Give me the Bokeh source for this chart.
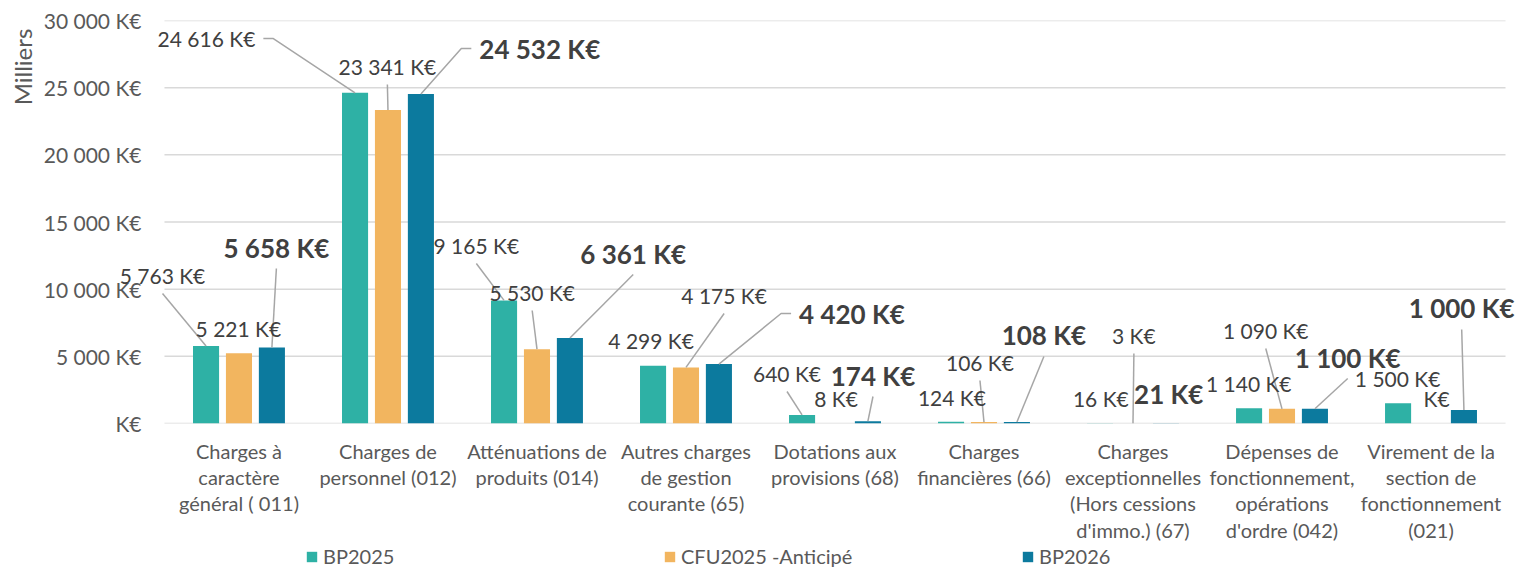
import math
from bokeh.plotting import figure
from bokeh.layouts import column, row
from bokeh.models import (ColumnDataSource, Range1d, FixedTicker, LabelSet,
                          Legend, LegendItem)
from bokeh.core.properties import value
from bokeh.embed import file_html
from bokeh.resources import INLINE

# ---------------- data ----------------
categories = [
    "Charges à\ncaractère\ngénéral ( 011)",
    "Charges de\npersonnel (012)",
    "Atténuations de\nproduits (014)",
    "Autres charges\nde gestion\ncourante (65)",
    "Dotations aux\nprovisions (68)",
    "Charges\nfinancières (66)",
    "Charges\nexceptionnelles\n(Hors cessions\nd'immo.) (67)",
    "Dépenses de\nfonctionnement,\nopérations\nd'ordre (042)",
    "Virement de la\nsection de\nfonctionnement\n(021)",
]
series_names = ["BP2025", "CFU2025 -Anticipé", "BP2026"]
bp2025 = [5763, 24616, 9165, 4299, 640, 124, 16, 1140, 1500]
cfu2025 = [5221, 23341, 5530, 4175, 8, 106, 3, 1090, 0]
bp2026 = [5658, 24532, 6361, 4420, 174, 108, 21, 1100, 1000]
y_ticks = [0, 5000, 10000, 15000, 20000, 25000, 30000]
y_tick_labels = ["K€", "5 000 K€", "10 000 K€", "15 000 K€", "20 000 K€", "25 000 K€", "30 000 K€"]
y_axis_title = "Milliers"

# ---------------- layout / style ----------------
colors = ["#2EB1A5", "#F2B55F", "#0C7A9E"]
bar_offsets = [-0.221, 0.0, 0.221]
bar_width = 0.175
bold_series = [False, False, True]

# label anchor positions (layout only), per series, in data units
lbl_x = [
    [-0.013, 0.610, 2.093, 3.266, 4.178, 5.285, 6.284, 7.277, 8.276],
    [0.496, 1.496, 2.468, 3.756, 4.507, 5.473, 6.506, 7.391, 8.538],
    [0.751, 2.113, 3.146, 4.259, 4.755, 5.902, 6.740, 7.941, 8.706],
]
lbl_y = [
    [11017, 28659, 13250, 6179, 3722, 1935, 1861, 2978, 3350],
    [7072, 26575, 9752, 9528, 1861, 4541, 6551, 6923, 1861],
    [13101, 27915, 12655, 8188, 3573, 6551, 2233, 4913, 8561],
]
lbl_align = [
    ["center", "right", "center", "center", "center", "center", "center", "center", "center"],
    ["center"] * 9,
    ["center", "left", "center", "left", "center", "center", "center", "center", "center"],
]
lbl_leader = [
    ["bottom", "right", "bottom", None, "bottom", None, None, None, None],
    [None, "bottom", "bottom", "bottom", None, "bottom", "bottom", "bottom", None],
    ["bottom", "left", "bottom", "left", "bottom", "bottom", None, "bottom", "bottom"],
]

TOTAL_W = 1517
LEFT_W = 40            # strip holding the rotated "Milliers"
MAIN_W = TOTAL_W - LEFT_W
MAIN_H, LEG_H = 545, 23
CAT_LEFT, CAT_RIGHT = 163, 1505      # category band (page px)
FRAME_LEFT, FRAME_RIGHT = 116, 1517  # main drawing frame (page px)
FRAME_TOP, FRAME_BOTTOM = 20, 423
TICK_LABEL_RIGHT = 140
Y_MAX = 30000
N = len(categories)
XPX = (CAT_RIGHT - CAT_LEFT) / N
YPX = (FRAME_BOTTOM - FRAME_TOP) / Y_MAX
x_start = -(CAT_LEFT - FRAME_LEFT) / XPX
x_end = N + (FRAME_RIGHT - CAT_RIGHT) / XPX

FONT = "Lato"
TEXT_COL = "#404040"
AXIS_COL = "#595959"
GRID_COL = "#D9D9D9"


def fmt(v):
    if v == 0:
        return "K€"
    return f"{v:,}".replace(",", " ") + " K€"


y_range = Range1d(0, Y_MAX)

p = figure(width=MAIN_W, height=MAIN_H, output_backend="svg", toolbar_location=None,
           x_range=Range1d(x_start, x_end), y_range=y_range,
           min_border_left=FRAME_LEFT - LEFT_W, min_border_right=TOTAL_W - FRAME_RIGHT,
           min_border_top=FRAME_TOP, min_border_bottom=MAIN_H - FRAME_BOTTOM)
p.outline_line_color = None
p.background_fill_color = "white"
p.xgrid.visible = False
p.ygrid.visible = False

# gridlines limited to the category band
p.segment(x0=[0] * len(y_ticks), x1=[N] * len(y_ticks), y0=y_ticks, y1=y_ticks,
          line_color=GRID_COL, line_width=1.5)

# y axis (tick labels right-aligned at ~140px, slightly inside the wide frame)
p.yaxis.ticker = FixedTicker(ticks=y_ticks)
p.yaxis.major_label_overrides = {t: l for t, l in zip(y_ticks, y_tick_labels)}
p.yaxis.axis_line_color = None
p.yaxis.major_tick_line_color = None
p.yaxis.minor_tick_line_color = None
p.yaxis.major_tick_out = 0
p.yaxis.major_tick_in = 0
p.yaxis.major_label_standoff = -(TICK_LABEL_RIGHT - FRAME_LEFT)
p.yaxis.major_label_text_font = FONT
p.yaxis.major_label_text_font_size = "21px"
p.yaxis.major_label_text_color = AXIS_COL

# x axis
x_ticks = [i + 0.5 for i in range(N)]
p.xaxis.ticker = FixedTicker(ticks=x_ticks)
p.xaxis.major_label_overrides = {t: c for t, c in zip(x_ticks, categories)}
p.xaxis.axis_line_color = None
p.xaxis.major_tick_line_color = None
p.xaxis.minor_tick_line_color = None
p.xaxis.major_tick_out = 0
p.xaxis.major_tick_in = 0
p.xaxis.major_label_standoff = 15
p.xaxis.major_label_text_font = FONT
p.xaxis.major_label_text_font_size = "20px"
p.xaxis.major_label_text_color = AXIS_COL
p.xaxis.major_label_text_line_height = 1.1

all_series = [bp2025, cfu2025, bp2026]
series_x = []
lx_all, ly_all = [], []
for s, vals in enumerate(all_series):
    xs = [i + 0.5 + bar_offsets[s] for i in range(len(vals))]
    series_x.append(xs)
    src = ColumnDataSource(dict(x=xs, top=vals))
    p.vbar(x="x", top="top", width=bar_width, source=src,
           fill_color=colors[s], line_color=None)

    for i, v in enumerate(vals):
        kind = lbl_leader[s][i]
        if kind is None:
            continue
        lx, ly = lbl_x[s][i], lbl_y[s][i]
        bx, by = xs[i], v
        if kind == "bottom":
            gap = 21 if bold_series[s] else 18
            lx_all.append([lx, bx])
            ly_all.append([ly - gap / YPX, by])
        elif kind == "left":
            lx_all.append([lx - 8 / XPX, lx - 18 / XPX, bx])
            ly_all.append([ly, ly, by])
        elif kind == "right":
            lx_all.append([lx + 8 / XPX, lx + 18 / XPX, bx])
            ly_all.append([ly, ly, by])

p.multi_line(xs=lx_all, ys=ly_all, line_color="#A6A6A6", line_width=1.5)

for s, vals in enumerate(all_series):
    for align in ("center", "left", "right"):
        idx = [i for i in range(len(vals)) if lbl_align[s][i] == align]
        if not idx:
            continue
        lsrc = ColumnDataSource(dict(
            x=[lbl_x[s][i] for i in idx],
            y=[lbl_y[s][i] for i in idx],
            text=[fmt(vals[i]) for i in idx],
        ))
        ls = LabelSet(x="x", y="y", text="text", source=lsrc,
                      text_align=value(align), text_baseline=value("middle"),
                      text_font=value(FONT),
                      text_font_size=value("26px" if bold_series[s] else "21px"),
                      text_font_style=value("bold" if bold_series[s] else "normal"),
                      text_color=value(TEXT_COL))
        p.add_layout(ls)

# ---- left strip: rotated axis title "Milliers" at the top-left ----
pl = figure(width=LEFT_W, height=MAIN_H, output_backend="svg", toolbar_location=None,
            x_range=Range1d(0, LEFT_W), y_range=y_range,
            x_axis_location=None, y_axis_location=None,
            min_border_left=0, min_border_right=0,
            min_border_top=FRAME_TOP, min_border_bottom=MAIN_H - FRAME_BOTTOM)
pl.outline_line_color = None
pl.grid.visible = False
pl.text(x=[22], y=[Y_MAX - 46.5 / YPX], text=[y_axis_title], angle=math.pi / 2,
        text_align="center", text_baseline="middle", text_font=value(FONT),
        text_font_size="24px", text_color=AXIS_COL)

# ---- bottom strip: legend (its bar renderers are hidden, only the legend shows) ----
pg = figure(width=TOTAL_W, height=LEG_H, output_backend="svg", toolbar_location=None,
            x_range=Range1d(0, N), y_range=Range1d(0, Y_MAX),
            x_axis_location=None, y_axis_location=None,
            min_border_left=0, min_border_right=0, min_border_top=0, min_border_bottom=0)
pg.outline_line_color = None
pg.grid.visible = False
leg_renderers = []
for s in range(len(all_series)):
    r = pg.vbar(x=series_x[s], top=all_series[s], width=bar_width,
                fill_color=colors[s], line_color=None)
    r.visible = False
    leg_renderers.append(r)
legend = Legend(items=[LegendItem(label=n, renderers=[r]) for n, r in zip(series_names, leg_renderers)],
                orientation="horizontal", location=(305, 0),
                glyph_width=13, glyph_height=13, label_standoff=5, label_width=338,
                spacing=2, padding=0, margin=0, border_line_color=None,
                background_fill_alpha=0, label_text_font=FONT,
                label_text_font_size="20px", label_text_color=AXIS_COL)
pg.add_layout(legend)

layout = column(row(pl, p), pg)
open("out.html", "w").write(file_html(layout, INLINE))
